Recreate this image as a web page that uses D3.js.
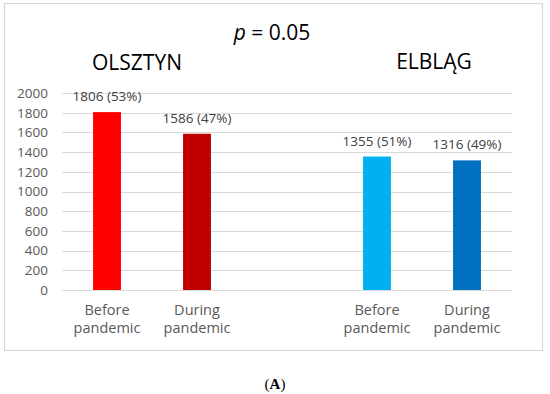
<!DOCTYPE html>
<html>
<head>
<meta charset="utf-8">
<script src="https://cdn.jsdelivr.net/npm/d3@7"></script>
<style>
  body { margin: 0; background: #fff; }
  text { font-family: "Open Sans", "Noto Sans", sans-serif; }
</style>
</head>
<body>
<div id="vis-container"></div>
<script>
// chart data
const categories = ["olsztynBefore", "olsztynDuring", "gap", "elblagBefore", "elblagDuring"];
const xLabels = [["Before", "pandemic"], ["During", "pandemic"], null, ["Before", "pandemic"], ["During", "pandemic"]];
const counts = [1806, 1586, null, 1355, 1316];
const percents = [53, 47, null, 51, 49];
const barColors = ["#ff0000", "#c00000", null, "#00b0f0", "#0070c0"];
const yTicks = [0, 200, 400, 600, 800, 1000, 1200, 1400, 1600, 1800, 2000];

const width = 550;
const height = 394;
const margin = {left: 62, right: 38, top: 93, bottom: 104};

const svg = d3.select("#vis-container")
  .append("svg")
  .attr("width", width)
  .attr("height", height);

// outer frame
svg.append("rect")
  .attr("x", 4.5).attr("y", 3.5)
  .attr("width", 538).attr("height", 347)
  .attr("fill", "none")
  .attr("stroke", "#d9d9d9")
  .attr("stroke-width", 1.2);

const xScale = d3.scaleBand()
  .domain(categories)
  .range([margin.left, width - margin.right])
  .paddingInner(0.69)
  .paddingOuter(0.345);

const yScale = d3.scaleLinear()
  .domain([0, 2000])
  .range([height - margin.bottom, margin.top]);

// gridlines
svg.append("g")
  .selectAll("line")
  .data(yTicks)
  .join("line")
  .attr("x1", margin.left)
  .attr("x2", width - margin.right)
  .attr("y1", d => Math.round(yScale(d)) + 0.5)
  .attr("y2", d => Math.round(yScale(d)) + 0.5)
  .attr("stroke", "#d9d9d9")
  .attr("stroke-width", 1.2);

// y axis
const yAxis = svg.append("g")
  .attr("transform", `translate(${margin.left - 14}, 0)`)
  .call(d3.axisLeft(yScale).tickValues(yTicks).tickFormat(d3.format("d")).tickSize(0).tickPadding(0));
yAxis.select(".domain").remove();
yAxis.selectAll("text")
  .attr("font-family", "Open Sans, sans-serif")
  .attr("font-size", "13.5px")
  .attr("fill", "#595959");

const data = categories.map((c, i) => ({cat: c, value: counts[i], pct: percents[i], color: barColors[i], label: xLabels[i]}))
  .filter(d => d.value !== null);

// bars
svg.selectAll(".bar")
  .data(data)
  .join("rect")
  .attr("class", "bar")
  .attr("x", d => xScale(d.cat))
  .attr("y", d => yScale(d.value))
  .attr("width", xScale.bandwidth())
  .attr("height", d => yScale(0) - yScale(d.value))
  .attr("fill", d => d.color);

// value labels
svg.selectAll(".val")
  .data(data)
  .join("text")
  .attr("class", "val")
  .attr("x", d => xScale(d.cat) + xScale.bandwidth() / 2)
  .attr("y", d => yScale(d.value) - 11)
  .attr("text-anchor", "middle")
  .attr("font-size", "13.5px")
  .attr("fill", "#404040")
  .text(d => `${d.value} (${d.pct}%)`);

// category labels
const catLabels = svg.selectAll(".cat")
  .data(data)
  .join("text")
  .attr("class", "cat")
  .attr("text-anchor", "middle")
  .attr("font-size", "14.5px")
  .attr("fill", "#595959");
catLabels.selectAll("tspan")
  .data(d => d.label.map(t => ({t, x: xScale(d.cat) + xScale.bandwidth() / 2})))
  .join("tspan")
  .attr("x", d => d.x)
  .attr("y", (d, i) => yScale(0) + 25 + i * 18)
  .text(d => d.t);

// titles
const pTitle = svg.append("text")
  .attr("x", 272).attr("y", 40)
  .attr("text-anchor", "middle")
  .attr("font-size", "21px")
  .attr("fill", "#000");
pTitle.append("tspan").attr("font-style", "italic").text("p");
pTitle.append("tspan").text(" = 0.05");

svg.append("text")
  .attr("x", (xScale("olsztynBefore") + xScale("olsztynDuring") + xScale.bandwidth()) / 2 - 15)
  .attr("y", 70)
  .attr("text-anchor", "middle")
  .attr("font-size", "21px")
  .attr("fill", "#000")
  .text("OLSZTYN");

svg.append("text")
  .attr("x", (xScale("elblagBefore") + xScale("elblagDuring") + xScale.bandwidth()) / 2 + 12)
  .attr("y", 69)
  .attr("text-anchor", "middle")
  .attr("font-size", "21px")
  .attr("fill", "#000")
  .text("ELBLĄG");

// panel caption
const cap = svg.append("text")
  .attr("x", 275).attr("y", 389)
  .attr("text-anchor", "middle")
  .attr("font-size", "15px")
  .attr("fill", "#000")
  .style("font-family", "'Liberation Serif', serif");
cap.append("tspan").text("(");
cap.append("tspan").attr("font-weight", "bold").text("A");
cap.append("tspan").text(")");
</script>
</body>
</html>
